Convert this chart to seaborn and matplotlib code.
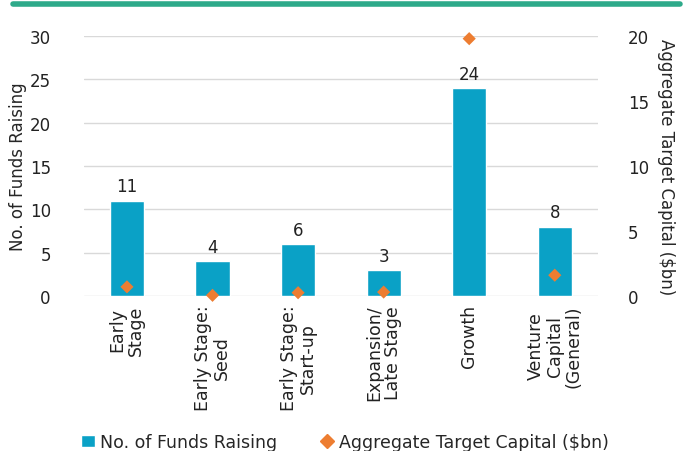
import matplotlib
matplotlib.use("Agg")
import matplotlib.pyplot as plt
import seaborn as sns
import pandas as pd
from matplotlib.lines import Line2D
from matplotlib.patches import Patch

# Chart data
stages = ["Early\nStage", "Early Stage:\nSeed", "Early Stage:\nStart-up",
          "Expansion/\nLate Stage", "Growth", "Venture\nCapital\n(General)"]
num_funds = [11, 4, 6, 3, 24, 8]
target_capital = [0.7, 0.05, 0.25, 0.3, 19.8, 1.6]

bar_color = "#0aa1c6"
dot_color = "#ed7d31"

df = pd.DataFrame({"stage": stages, "funds": num_funds, "capital": target_capital})

sns.set_style("white")
plt.rcParams["font.family"] = ["DejaVu Sans"]

fig = plt.figure(figsize=(6.9, 4.52), dpi=100)
ax = fig.add_axes([0.122, 0.343, 0.744, 0.575])

sns.barplot(data=df, x="stage", y="funds", color=bar_color, width=0.4,
            saturation=1, ax=ax, zorder=2)
for i, v in enumerate(num_funds):
    ax.text(i, v + 0.6, str(v), ha="center", va="bottom", fontsize=12, color="#222222")

ax.set_ylim(0, 30)
ax.set_yticks(range(0, 31, 5))
ax.set_xlim(-0.5, len(stages) - 0.5)
ax.yaxis.grid(True, color="#d9d9d9", linewidth=1, zorder=0)
ax.set_axisbelow(True)
for s in ax.spines.values():
    s.set_visible(False)
ax.set_xlabel("")
ax.set_ylabel("No. of Funds Raising", fontsize=12, va="center")
ax.yaxis.set_label_coords(-0.128, 0.5)
ax.tick_params(axis="both", length=0, labelsize=12, colors="#222222")
ax.tick_params(axis="y", pad=24)
ax.tick_params(axis="x", pad=6)
ax.set_xticks(range(len(stages)))
ax.set_xticklabels(stages, rotation=90, va="top", ha="center", linespacing=1.05,
                   fontsize=12.5)

ax2 = ax.twinx()
sns.scatterplot(x=list(range(len(stages))), y=target_capital, marker="D", s=45,
                color=dot_color, edgecolor="none", ax=ax2, zorder=5, clip_on=False)
ax2.set_ylim(0, 20)
ax2.set_yticks(range(0, 21, 5))
for s in ax2.spines.values():
    s.set_visible(False)
ax2.tick_params(axis="y", length=0, labelsize=12, colors="#222222", pad=22)
ax2.set_ylabel("Aggregate Target Capital ($bn)", rotation=270, fontsize=12, va="center")
ax2.yaxis.set_label_coords(1.133, 0.5)

# Top accent line
fig.add_artist(Line2D([0.019, 0.986], [0.989, 0.989], color="#2eaa8a", linewidth=4,
                      transform=fig.transFigure))

handles = [Patch(facecolor=bar_color, label="No. of Funds Raising"),
           Line2D([], [], marker="D", linestyle="none", color=dot_color, markersize=7,
                  label="Aggregate Target Capital ($bn)")]
fig.legend(handles=handles, loc="lower center", bbox_to_anchor=(0.5, -0.035), ncol=2,
           frameon=False, fontsize=12.5, handlelength=0.8, handletextpad=0.3,
           columnspacing=2.5)

fig.savefig("out.png", dpi=100)
